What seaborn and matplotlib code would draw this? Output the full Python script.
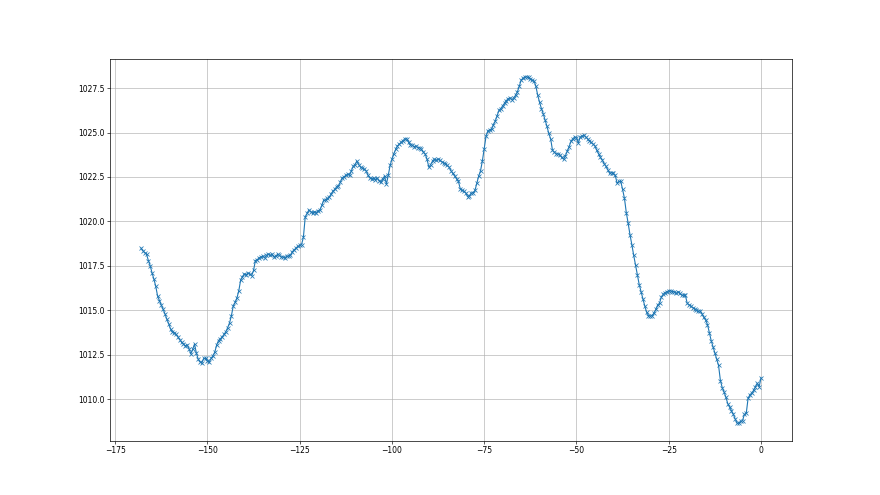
import numpy as np
import pandas as pd
import matplotlib
matplotlib.use("Agg")
import matplotlib.pyplot as plt
import seaborn as sns

# hours before now, half-hour steps
hours = np.arange(-168, 0.5, 0.5)

# pressure readings (hPa), one per half hour
pressure = [
    1018.50, 1018.35, 1018.25, 1018.15, 1017.80, 1017.50, 1017.10, 1016.75, 1016.35, 1015.80,
    1015.55, 1015.30, 1015.05, 1014.80, 1014.50, 1014.25, 1013.95, 1013.80, 1013.75, 1013.65,
    1013.50, 1013.35, 1013.20, 1013.10, 1013.00, 1013.05, 1012.85, 1012.55, 1012.80, 1013.10,
    1012.60, 1012.25, 1012.10, 1012.05, 1012.30, 1012.30, 1012.15, 1012.10, 1012.30, 1012.45,
    1012.65, 1013.05, 1013.30, 1013.40, 1013.50, 1013.65, 1013.80, 1014.03, 1014.30, 1014.70,
    1015.25, 1015.45, 1015.70, 1016.10, 1016.70, 1016.90, 1017.05, 1017.00, 1017.10, 1017.05,
    1016.95, 1017.25, 1017.80, 1017.85, 1017.95, 1018.00, 1018.05, 1017.95, 1018.10, 1018.15,
    1018.10, 1018.15, 1018.00, 1018.05, 1018.15, 1018.10, 1018.00, 1018.00, 1017.95, 1018.05,
    1018.05, 1018.10, 1018.30, 1018.40, 1018.50, 1018.60, 1018.65, 1018.70, 1019.10, 1020.25,
    1020.45, 1020.65, 1020.55, 1020.45, 1020.55, 1020.50, 1020.60, 1020.65, 1020.90, 1021.20,
    1021.20, 1021.30, 1021.35, 1021.55, 1021.70, 1021.80, 1021.95, 1022.00, 1022.20, 1022.45,
    1022.50, 1022.60, 1022.65, 1022.60, 1022.85, 1023.10, 1023.20, 1023.40, 1023.20, 1023.05,
    1023.00, 1022.95, 1022.85, 1022.60, 1022.45, 1022.40, 1022.45, 1022.35, 1022.45, 1022.30,
    1022.20, 1022.40, 1022.55, 1022.10, 1022.60, 1023.15, 1023.50, 1023.80, 1024.05, 1024.25,
    1024.35, 1024.45, 1024.55, 1024.65, 1024.65, 1024.45, 1024.30, 1024.30, 1024.20, 1024.25,
    1024.15, 1024.15, 1024.05, 1023.90, 1023.80, 1023.50, 1023.05, 1023.20, 1023.40, 1023.50,
    1023.45, 1023.50, 1023.45, 1023.35, 1023.30, 1023.25, 1023.15, 1023.05, 1022.85, 1022.70,
    1022.55, 1022.40, 1022.25, 1021.85, 1021.75, 1021.70, 1021.60, 1021.40, 1021.45, 1021.60,
    1021.60, 1021.75, 1022.15, 1022.55, 1022.85, 1023.40, 1024.10, 1024.80, 1025.10, 1025.15,
    1025.20, 1025.45, 1025.65, 1025.95, 1026.25, 1026.35, 1026.50, 1026.65, 1026.80, 1026.90,
    1026.95, 1026.85, 1026.95, 1027.10, 1027.30, 1027.60, 1027.95, 1028.05, 1028.12, 1028.14,
    1028.10, 1028.00, 1027.95, 1027.90, 1027.60, 1027.10, 1026.70, 1026.35, 1026.05, 1025.70,
    1025.35, 1024.95, 1024.65, 1024.00, 1023.90, 1023.80, 1023.80, 1023.75, 1023.60, 1023.50,
    1023.70, 1023.95, 1024.20, 1024.50, 1024.65, 1024.75, 1024.70, 1024.40, 1024.75, 1024.80,
    1024.85, 1024.75, 1024.65, 1024.55, 1024.45, 1024.35, 1024.25, 1024.00, 1023.80, 1023.60,
    1023.45, 1023.25, 1023.10, 1022.90, 1022.70, 1022.75, 1022.70, 1022.60, 1022.15, 1022.25,
    1022.25, 1021.80, 1021.30, 1020.50, 1019.90, 1019.25, 1018.70, 1018.10, 1017.55, 1017.00,
    1016.45, 1016.05, 1015.65, 1015.25, 1014.90, 1014.70, 1014.68, 1014.70, 1014.85, 1015.05,
    1015.30, 1015.40, 1015.75, 1015.90, 1016.00, 1016.05, 1016.10, 1016.10, 1016.05, 1016.05,
    1015.95, 1016.05, 1015.95, 1015.85, 1015.85, 1015.85, 1015.40, 1015.30, 1015.25, 1015.15,
    1015.10, 1015.00, 1014.95, 1014.98, 1014.80, 1014.60, 1014.45, 1014.20, 1013.75, 1013.30,
    1012.95, 1012.60, 1012.25, 1011.90, 1011.05, 1010.65, 1010.40, 1010.10, 1009.75, 1009.55,
    1009.35, 1009.15, 1008.90, 1008.65, 1008.65, 1008.75, 1008.80, 1009.15, 1009.20, 1010.05,
    1010.25, 1010.35, 1010.50, 1010.70, 1010.90, 1010.70, 1011.20,
]

df = pd.DataFrame({"hours": hours, "pressure": pressure})

plt.rcParams["font.size"] = 5.5
fig, ax = plt.subplots(figsize=(8.8, 4.95), dpi=100)

sns.lineplot(data=df, x="hours", y="pressure", ax=ax, marker="x", color="C0",
             linewidth=0.8, markersize=3.3, markeredgewidth=0.55, markeredgecolor="C0")

ax.set_xlabel("")
ax.set_ylabel("")
ax.set_xticks([-175, -150, -125, -100, -75, -50, -25, 0])
ax.grid(True, color="#b0b0b0", linewidth=0.45)
ax.tick_params(length=2, width=0.45, pad=2, labelsize=5.5)
for s in ax.spines.values():
    s.set_linewidth(0.5)

fig.savefig("out.png", dpi=100)
